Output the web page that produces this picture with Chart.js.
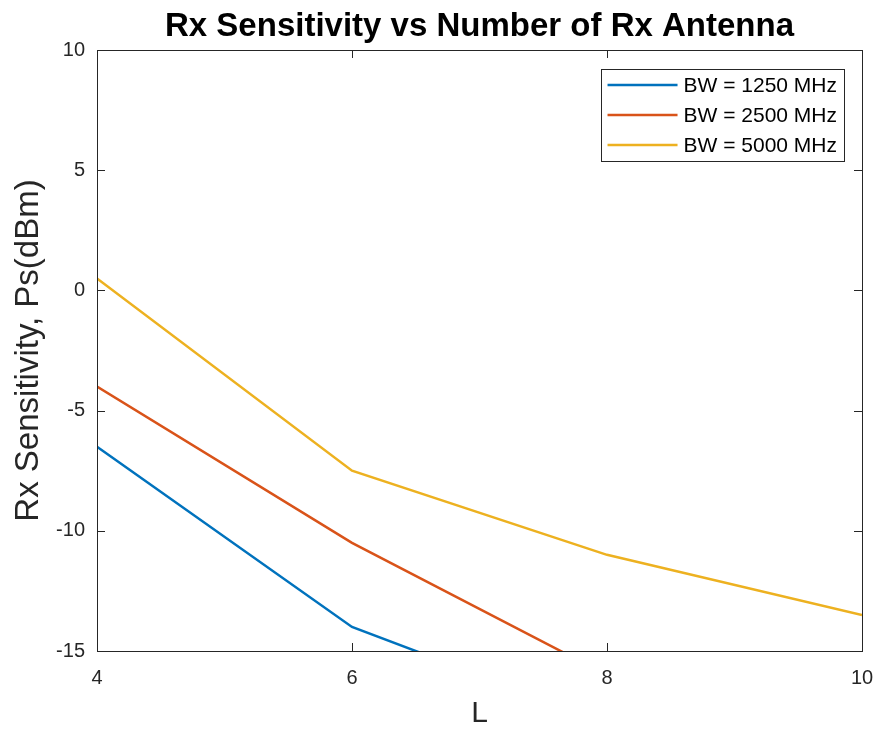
<!DOCTYPE html>
<html>
<head>
<meta charset="utf-8">
<script src="https://cdn.jsdelivr.net/npm/chart.js@4.4.1/dist/chart.umd.min.js"></script>
<style>
  html, body { margin: 0; padding: 0; background: #fff; }
  #wrap { width: 878px; height: 730px; }
</style>
</head>
<body>
<div id="wrap"><canvas id="sens" width="878" height="730"></canvas></div>
<script>
(function() {
    "use strict";

    // number of Rx antennas
    var antennas = [4, 6, 8, 10];
    // sensitivity in dBm, one array per bandwidth (points below -15 are clipped by the axis)
    var bw1250 = [-6.5, -14, -18, -20.5];
    var bw2500 = [-4, -10.5, -16, -18.5];
    var bw5000 = [0.5, -7.5, -11, -13.5];
    var seriesNames = ['BW = 1250 MHz', 'BW = 2500 MHz', 'BW = 5000 MHz'];
    var xTicks = [4, 6, 8, 10];
    var yTicks = [-15, -10, -5, 0, 5, 10];

    var FONT = '"Liberation Sans", Arial, Helvetica, sans-serif';
    var AXIS_COLOR = '#262626';

    function points(ys) {
        return antennas.map(function(x, i) { return { x: x, y: ys[i] }; });
    }

    // matlab style box with inward ticks on all four sides
    var frame = {
        id: 'frame',
        afterDatasetsDraw: function(chart) {
            var ctx = chart.ctx, a = chart.chartArea;
            var xs = chart.scales.x, ys = chart.scales.y;
            var len = 8;
            ctx.save();
            ctx.strokeStyle = AXIS_COLOR;
            ctx.lineWidth = 1;
            ctx.beginPath();
            xTicks.forEach(function(v) {
                var px = Math.round(xs.getPixelForValue(v)) + 0.5;
                ctx.moveTo(px, a.bottom); ctx.lineTo(px, a.bottom - len);
                ctx.moveTo(px, a.top); ctx.lineTo(px, a.top + len);
            });
            yTicks.forEach(function(v) {
                var py = Math.round(ys.getPixelForValue(v)) + 0.5;
                ctx.moveTo(a.left, py); ctx.lineTo(a.left + len, py);
                ctx.moveTo(a.right, py); ctx.lineTo(a.right - len, py);
            });
            ctx.stroke();
            ctx.strokeRect(Math.round(a.left) + 0.5, Math.round(a.top) + 0.5,
                Math.round(a.right - a.left), Math.round(a.bottom - a.top));
            ctx.restore();
        }
    };

    // legend box inside the axes, top right
    var boxLegend = {
        id: 'boxLegend',
        afterDraw: function(chart) {
            var ctx = chart.ctx, a = chart.chartArea;
            var sets = chart.data.datasets;
            ctx.save();
            ctx.font = '21px ' + FONT;
            var tw = 0;
            sets.forEach(function(d) { tw = Math.max(tw, ctx.measureText(d.label).width); });
            var sample = 70, gap = 6, padL = 7, padR = 7, rowH = 30;
            var w = padL + sample + gap + tw + padR;
            var h = rowH * sets.length + 2;
            var right = a.right - 18, top = a.top + 19;
            var left = right - w;
            ctx.fillStyle = '#fff';
            ctx.fillRect(left, top, w, h);
            ctx.strokeStyle = AXIS_COLOR;
            ctx.lineWidth = 1;
            ctx.strokeRect(Math.round(left) + 0.5, Math.round(top) + 0.5, Math.round(w), Math.round(h));
            ctx.textBaseline = 'middle';
            ctx.textAlign = 'left';
            sets.forEach(function(d, i) {
                var cy = top + 16 + i * rowH;
                ctx.strokeStyle = d.borderColor;
                ctx.lineWidth = 2.5;
                ctx.beginPath();
                ctx.moveTo(left + padL, cy);
                ctx.lineTo(left + padL + sample, cy);
                ctx.stroke();
                ctx.fillStyle = '#000';
                ctx.fillText(d.label, left + padL + sample + gap, cy + 1);
            });
            ctx.restore();
        }
    };

    var line = {
        borderWidth: 2.5,
        pointRadius: 0,
        tension: 0,
        clip: 0
    };

    new Chart(document.getElementById('sens'), {
        type: 'line',
        data: {
            datasets: [
                Object.assign({ label: seriesNames[0], data: points(bw1250), borderColor: '#0072BD', backgroundColor: '#0072BD' }, line),
                Object.assign({ label: seriesNames[1], data: points(bw2500), borderColor: '#D95319', backgroundColor: '#D95319' }, line),
                Object.assign({ label: seriesNames[2], data: points(bw5000), borderColor: '#EDB120', backgroundColor: '#EDB120' }, line)
            ]
        },
        options: {
            responsive: false,
            animation: false,
            layout: { padding: { left: 0, right: 16, top: 0, bottom: 0 } },
            plugins: {
                legend: { display: false },
                tooltip: { enabled: false },
                title: {
                    display: true,
                    fullSize: false,
                    text: 'Rx Sensitivity vs Number of Rx Antenna',
                    color: '#000',
                    font: { family: FONT, size: 33, weight: 'bold', lineHeight: 1.2 },
                    padding: { top: 7, bottom: 3.4 }
                }
            },
            scales: {
                x: {
                    type: 'linear',
                    min: 4,
                    max: 10,
                    afterBuildTicks: function(s) { s.ticks = xTicks.map(function(v) { return { value: v }; }); },
                    afterFit: function(s) { s.height = 79; s.paddingLeft = 0; s.paddingRight = 0; },
                    grid: { display: false, drawTicks: false },
                    border: { display: false },
                    ticks: { color: AXIS_COLOR, padding: 15, maxRotation: 0, font: { family: FONT, size: 20 } },
                    title: {
                        display: true,
                        text: 'L',
                        color: AXIS_COLOR,
                        font: { family: FONT, size: 30, lineHeight: 1 },
                        padding: { top: 0, bottom: 1 }
                    }
                },
                y: {
                    min: -15,
                    max: 10,
                    afterBuildTicks: function(s) { s.ticks = yTicks.map(function(v) { return { value: v }; }); },
                    afterFit: function(s) { s.width = 97; s.paddingTop = 0; s.paddingBottom = 0; },
                    grid: { display: false, drawTicks: false },
                    border: { display: false },
                    ticks: { color: AXIS_COLOR, padding: 12, font: { family: FONT, size: 20 } },
                    title: {
                        display: true,
                        text: 'Rx Sensitivity, Ps(dBm)',
                        color: AXIS_COLOR,
                        font: { family: FONT, size: 33, lineHeight: 1 },
                        padding: { top: 12, bottom: 0 }
                    }
                }
            }
        },
        plugins: [frame, boxLegend]
    });

})();
</script>
</body>
</html>
